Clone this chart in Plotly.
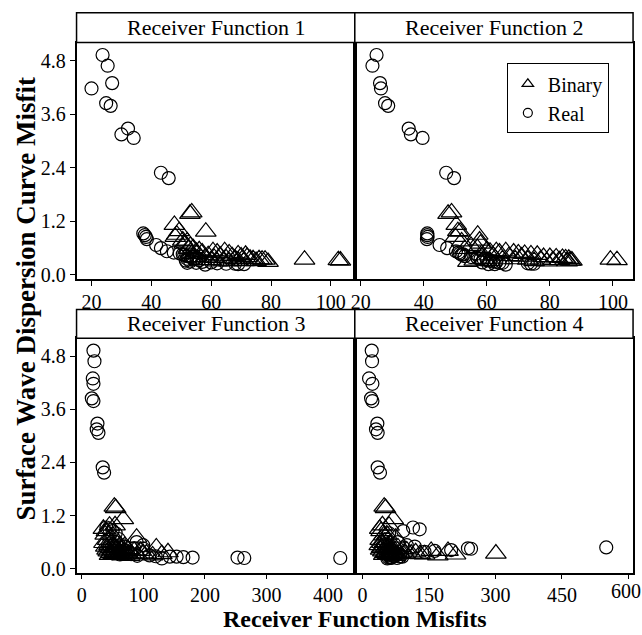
import plotly.graph_objects as go

W, H = 642, 635

# ---------------- data ----------------
panel_titles = ["Receiver Function 1", "Receiver Function 2",
                "Receiver Function 3", "Receiver Function 4"]

real_swd = [4.93, 4.69, 4.30, 4.18, 3.85, 3.79, 3.28, 3.15, 3.07, 2.29, 2.17,
            0.93, 0.89, 0.85, 0.80, 0.67, 0.60, 0.53, 0.50,
            0.48, 0.45, 0.42, 0.40, 0.38, 0.36, 0.35, 0.33, 0.32, 0.30, 0.29,
            0.28, 0.27, 0.27, 0.26, 0.25, 0.25, 0.24, 0.24, 0.23, 0.46]

real_rf1 = [23.7, 25.4, 26.9, 20.0, 24.9, 26.4, 32.2, 30.0, 34.1, 43.2, 45.8,
            37.3, 37.8, 38.2, 38.5, 41.6, 43.2, 45.2, 47.5,
            49.5, 51.0, 52.0, 53.5, 55.0, 52.0, 54.0, 56.0, 51.5, 53.0, 57.0,
            60.0, 52.0, 55.0, 62.0, 65.0, 68.0, 69.0, 71.0, 58.0, 50.5]

real_rf2 = [25.0, 23.7, 26.1, 26.4, 27.7, 28.7, 35.2, 35.9, 39.6, 47.1, 49.6,
            41.1, 41.1, 41.2, 41.0, 45.0, 47.4, 50.2, 51.0,
            51.5, 52.0, 53.0, 55.0, 57.0, 58.0, 59.0, 60.0, 61.0, 62.0, 63.0,
            58.5, 64.0, 65.0, 73.0, 74.0, 75.0, 60.5, 62.5, 66.0, 52.5]

real_rf3 = [18.9, 20.5, 17.8, 18.9, 16.2, 18.9, 25.4, 24.2, 27.0, 33.9, 36.2,
            40.0, 45.0, 50.0, 55.0, 60.0, 89.0, 99.7, 70.0,
            60.0, 100.0, 70.0, 55.0, 65.0, 75.0, 50.0, 80.0, 62.0, 110.0, 90.0,
            120.0, 143.0, 154.0, 165.0, 180.0, 253.0, 264.0, 420.0, 130.0, 85.0]

real_rf4 = [20.9, 21.6, 14.9, 22.4, 19.4, 22.4, 33.6, 30.5, 34.3, 34.3, 39.5,
            114.0, 129.0, 92.0, 60.0, 55.0, 80.0, 100.0, 118.0,
            550.0, 245.0, 200.0, 163.0, 140.0, 70.0, 65.0, 75.0, 80.0, 60.0, 68.0,
            72.0, 85.0, 90.0, 62.0, 58.0, 66.0, 64.0, 78.0, 56.0, 238.0]

binary_swd = [1.40, 1.37, 1.12, 0.98, 0.97, 0.90, 0.85, 0.77, 0.75, 0.70,
              0.65, 0.60, 0.58, 0.55, 0.53, 0.53, 0.52, 0.50, 0.50, 0.48,
              0.47, 0.46, 0.45, 0.44, 0.43, 0.42, 0.41, 0.40, 0.40, 0.39,
              0.38, 0.37, 0.36, 0.36, 0.35, 0.35, 0.34, 0.34, 0.33, 0.33,
              0.32, 0.32, 0.31, 0.31, 0.30, 0.30, 0.29, 0.34, 0.33, 0.32]

binary_rf1 = [53.5, 52.9, 47.7, 49.3, 58.2, 48.5, 48.0, 50.5, 52.0, 51.0,
              53.0, 54.0, 52.5, 56.0, 60.6, 64.5, 55.0, 57.0, 62.0, 66.0,
              53.5, 69.0, 71.5, 59.0, 63.0, 67.0, 70.0, 72.0, 54.0, 58.0,
              61.0, 65.0, 68.0, 73.0, 74.0, 76.0, 77.0, 78.0, 56.0, 60.0,
              64.0, 69.0, 71.0, 75.0, 62.0, 66.0, 79.0, 91.2, 102.5, 103.2]

binary_rf2 = [48.8, 47.7, 50.3, 50.8, 51.5, 57.1, 50.0, 57.7, 52.0, 58.0,
              55.0, 57.0, 53.0, 60.0, 63.0, 66.0, 61.0, 68.5, 64.0, 70.0,
              72.0, 74.0, 76.0, 58.0, 62.0, 67.0, 71.0, 78.0, 80.0, 82.0,
              84.0, 85.0, 86.0, 59.0, 65.0, 69.0, 73.0, 77.0, 81.0, 83.0,
              87.0, 56.0, 61.0, 75.0, 79.0, 85.5, 54.0, 99.2, 101.3, 86.5]

binary_rf3 = [52.8, 55.0, 67.4, 54.0, 45.0, 35.0, 40.0, 38.0, 50.0, 89.0,
              42.0, 48.0, 36.0, 58.0, 44.0, 62.0, 70.0, 39.0, 52.0, 121.0,
              46.0, 56.0, 64.0, 75.0, 41.0, 49.0, 60.0, 85.0, 95.0, 43.0,
              53.0, 140.0, 66.0, 72.0, 47.0, 57.0, 80.0, 105.0, 51.0, 61.0,
              68.0, 90.0, 45.0, 55.0, 65.0, 115.0, 78.0, 100.0, 130.0, 59.0]

binary_rf4 = [49.0, 52.0, 69.5, 45.0, 60.0, 39.0, 42.0, 55.0, 48.0, 75.0,
              40.0, 50.0, 44.0, 62.0, 38.0, 58.0, 70.0, 47.0, 53.0, 80.0,
              43.0, 65.0, 56.0, 90.0, 41.0, 61.0, 100.0, 155.0, 193.0, 46.0,
              54.0, 120.0, 67.0, 72.0, 51.0, 85.0, 301.0, 110.0, 57.0, 63.0,
              78.0, 140.0, 48.0, 59.0, 66.0, 170.0, 74.0, 95.0, 130.0, 210.0]

real_rf = [real_rf1, real_rf2, real_rf3, real_rf4]
binary_rf = [binary_rf1, binary_rf2, binary_rf3, binary_rf4]

x_ticks = [[20, 40, 60, 80, 100], [20, 40, 60, 80, 100],
           [0, 100, 200, 300, 400], [0, 150, 300, 450, 600]]
y_ticks = [0.0, 1.2, 2.4, 3.6, 4.8]

# ---------------- layout geometry (pixels) ----------------
def X(px):
    return px / W

def Y(py):
    return 1 - py / H

# (left, right, plot_top, plot_bottom, strip_top)
panels = [(73, 353, 43, 282, 13), (353, 633, 43, 282, 13),
          (73, 353, 342, 579, 313), (353, 633, 342, 579, 313)]
x_ranges = [[15.0, 108.0], [18.1, 106.4], [-8.6, 443.6], [-17.3, 610.5]]
y_range = [-0.09, 5.21]

FONT = "Liberation Serif"

fig = go.Figure()

for i in range(4):
    xa = "x" if i == 0 else f"x{i+1}"
    ya = "y" if i == 0 else f"y{i+1}"
    fig.add_trace(go.Scatter(
        x=binary_rf[i], y=binary_swd, mode="markers", xaxis=xa, yaxis=ya,
        showlegend=False, name="Binary",
        marker=dict(symbol="triangle-up-open", size=18, color="black",
                    line=dict(width=1.2, color="black"))))
    fig.add_trace(go.Scatter(
        x=real_rf[i], y=real_swd, mode="markers", xaxis=xa, yaxis=ya,
        showlegend=False, name="Real",
        marker=dict(symbol="circle-open", size=13, color="black",
                    line=dict(width=1.2, color="black"))))

# legend-only entries with small symbols
fig.add_trace(go.Scatter(x=[None], y=[None], mode="markers", name="Binary",
                         xaxis="x2", yaxis="y2",
                         marker=dict(symbol="triangle-up-open", size=10, color="black",
                                     line=dict(width=1.2))))
fig.add_trace(go.Scatter(x=[None], y=[None], mode="markers", name="Real",
                         xaxis="x2", yaxis="y2",
                         marker=dict(symbol="circle-open", size=9, color="black",
                                     line=dict(width=1.2))))

layout = dict(
    width=W, height=H, margin=dict(l=0, r=0, t=0, b=0),
    paper_bgcolor="white", plot_bgcolor="white",
    font=dict(family=FONT, color="black", size=20),
    showlegend=True,
    legend=dict(x=X(506), y=Y(64), xanchor="left", yanchor="top",
                bgcolor="white", bordercolor="black", borderwidth=1,
                font=dict(family=FONT, size=20, color="black"),
                tracegroupgap=0, itemsizing="trace"),
)

shapes = []
annotations = []
for i, (l, r, t, b, st) in enumerate(panels):
    sfx = "" if i == 0 else str(i + 1)
    ticktext = [str(v) for v in x_ticks[i]]
    if i == 3:
        ticktext[-1] = ""  # drawn as an annotation at the page edge below
    layout["xaxis" + sfx] = dict(
        domain=[X(l), X(r)], anchor="y" + sfx, range=x_ranges[i],
        tickvals=x_ticks[i], ticktext=ticktext,
        ticks="outside", ticklen=5, tickwidth=1,
        tickcolor="black", showline=True, mirror=True, linecolor="black",
        linewidth=1.5, showgrid=False, zeroline=False,
        ticklabelstandoff=-1,
        tickfont=dict(family=FONT, size=20, color="black"))
    left_col = (i % 2 == 0)
    layout["yaxis" + sfx] = dict(
        domain=[Y(b), Y(t)], anchor="x" + sfx, range=y_range,
        tickvals=y_ticks, tickformat=".1f",
        ticks="outside" if left_col else "", ticklen=5, tickwidth=1,
        tickcolor="black", showticklabels=left_col,
        showline=True, mirror=True, linecolor="black", linewidth=1.5,
        showgrid=False, zeroline=False,
        tickfont=dict(family=FONT, size=20, color="black"))
    shapes.append(dict(type="rect", xref="paper", yref="paper",
                       x0=X(l), x1=X(r), y0=Y(t), y1=Y(st),
                       line=dict(color="black", width=1.5), fillcolor="white",
                       layer="above"))
    annotations.append(dict(text=panel_titles[i], xref="paper", yref="paper",
                            x=X((l + r) / 2), y=Y((st + t) / 2), borderpad=0,
                            xanchor="center", yanchor="middle", showarrow=False,
                            font=dict(family=FONT, size=22, color="black")))

# last tick label of panel 4 sits at the right page edge
annotations.append(dict(text=str(x_ticks[3][-1]), xref="paper", yref="paper",
                        x=1.0, y=Y(598), xanchor="right", yanchor="middle",
                        showarrow=False, borderpad=0,
                        font=dict(family=FONT, size=20, color="black")))

annotations.append(dict(text="<b>Receiver Function Misfits</b>", xref="paper",
                        yref="paper", x=X(353), y=Y(626), xanchor="center",
                        yanchor="middle", showarrow=False, borderpad=0,
                        font=dict(family=FONT, size=24, color="black")))
annotations.append(dict(text="<b>Surface Wave Dispersion Curve Misfit</b>",
                        xref="paper", yref="paper", x=X(22), y=Y(302),
                        xanchor="center", yanchor="middle", textangle=-90,
                        showarrow=False,
                        font=dict(family=FONT, size=27, color="black")))

layout["shapes"] = shapes
layout["annotations"] = annotations
fig.update_layout(**layout)

fig.write_html("out.html", config={"displayModeBar": False})
